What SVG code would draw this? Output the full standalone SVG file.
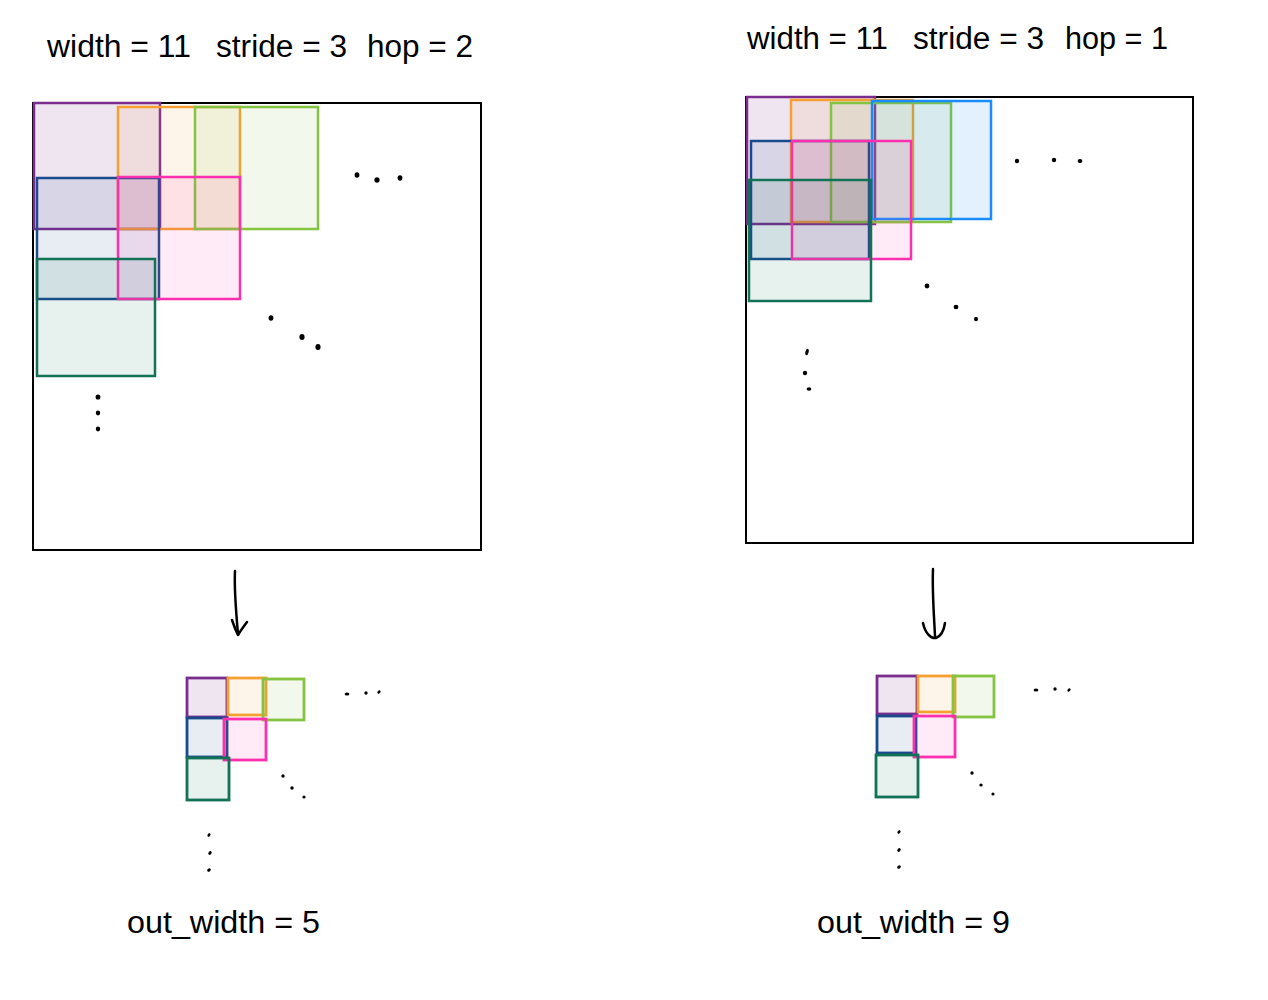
<svg xmlns="http://www.w3.org/2000/svg" width="1268" height="1000" viewBox="0 0 1268 1000">
<style>
  text { font-family: "Liberation Sans", Arial, sans-serif; font-size: 31px; fill: #000; }
  .frame { fill: none; stroke: #000; stroke-width: 2; }
  .w { stroke-width: 2.5; fill-opacity: 0.12; }
  .s { stroke-width: 2.8; }
  .pu { stroke: #7b2d8e; fill: #7b2d8e; }
  .or { stroke: #f5a030; fill: #f5a030; fill-opacity: 0.1; }
  .gr { stroke: #84c441; fill: #84c441; fill-opacity: 0.1; }
  .bl { stroke: #184a8c; fill: #184a8c; fill-opacity: 0.1; }
  .pk { stroke: #fc2fae; fill: #fc2fae; fill-opacity: 0.1; }
  .tl { stroke: #127256; fill: #127256; fill-opacity: 0.1; }
  .bb { stroke: #1a8cff; fill: #1a8cff; fill-opacity: 0.12; }
  .dot { fill: #000; }
  .arrow { fill: none; stroke: #000; stroke-width: 2.5; stroke-linecap: round; stroke-linejoin: round; }
</style>

<g id="left-title">
  <text x="47" y="57" textLength="144" lengthAdjust="spacingAndGlyphs">width = 11</text>
  <text x="216" y="57" textLength="131" lengthAdjust="spacingAndGlyphs">stride = 3</text>
  <text x="367" y="57" textLength="106" lengthAdjust="spacingAndGlyphs">hop = 2</text>
</g>

<g id="right-title">
  <text x="747" y="49" textLength="141" lengthAdjust="spacingAndGlyphs">width = 11</text>
  <text x="913" y="49" textLength="131" lengthAdjust="spacingAndGlyphs">stride = 3</text>
  <text x="1065" y="49" textLength="103" lengthAdjust="spacingAndGlyphs">hop = 1</text>
</g>

<g id="left-input">
  <rect class="frame" x="33" y="103" width="448" height="447"/>
  <rect class="w pu" x="34" y="103" width="126" height="126"/>
  <rect class="w or" x="118" y="107" width="122" height="122"/>
  <rect class="w gr" x="195" y="107" width="123" height="122"/>
  <rect class="w bl" x="37" y="178" width="122" height="121"/>
  <rect class="w pk" x="118" y="177" width="122" height="122"/>
  <rect class="w tl" x="37" y="259" width="118" height="117"/>
  <g class="dot">
    <ellipse cx="357" cy="175" rx="2.4" ry="2.8"/>
    <ellipse cx="377" cy="180" rx="2.6" ry="2.8"/>
    <ellipse cx="400" cy="178" rx="2.4" ry="2.8"/>
    <ellipse cx="271" cy="318" rx="2.4" ry="2.8"/>
    <ellipse cx="302" cy="337" rx="2.6" ry="3"/>
    <ellipse cx="318" cy="347" rx="2.6" ry="3"/>
    <ellipse cx="98" cy="397" rx="2.4" ry="2.6"/>
    <ellipse cx="98" cy="413" rx="2.2" ry="2.4"/>
    <ellipse cx="98" cy="429" rx="2.2" ry="2.4"/>
  </g>
</g>

<g id="right-input">
  <rect class="frame" x="746" y="97" width="447" height="446"/>
  <rect class="w pu" x="747" y="97" width="128" height="127"/>
  <rect class="w or" x="791" y="100" width="122" height="122"/>
  <rect class="w gr" x="831" y="103" width="120" height="119"/>
  <rect class="w bb" x="872" y="101" width="119" height="118"/>
  <rect class="w bl" x="751" y="141" width="118" height="118"/>
  <rect class="w pk" x="792" y="141" width="119" height="118"/>
  <rect class="w tl" x="749" y="180" width="122" height="121"/>
  <g class="dot">
    <ellipse cx="1017" cy="161" rx="2.2" ry="2.2"/>
    <ellipse cx="1054" cy="160" rx="2.2" ry="2.2"/>
    <ellipse cx="1080" cy="161" rx="2.4" ry="2"/>
    <ellipse cx="927" cy="286" rx="2.4" ry="2.4"/>
    <ellipse cx="956" cy="307" rx="2.4" ry="2.2"/>
    <ellipse cx="976" cy="319" rx="2" ry="2.2"/>
    <ellipse cx="807" cy="352" rx="1.6" ry="3.2" transform="rotate(15 807 352)"/>
    <ellipse cx="805" cy="373" rx="2.2" ry="2.2"/>
    <ellipse cx="809" cy="389" rx="2.4" ry="1.7"/>
  </g>
</g>

<g id="connectors">
  <path class="arrow" d="M235 571 C234 590 236 612 238 634"/>
  <path class="arrow" d="M232 620 C234 626 236 631 238 635 C241 630 244 626 247 622"/>
  <path class="arrow" d="M933 569 C932 590 934 615 935 636"/>
  <path class="arrow" d="M923 623 C925 633 931 639 936 638 C941 636 944 630 945 623"/>
</g>

<g id="left-output">
  <rect class="w s pu" x="187" y="678" width="40" height="39"/>
  <rect class="w s or" x="228" y="678" width="38" height="37"/>
  <rect class="w s gr" x="263" y="679" width="41" height="41"/>
  <rect class="w s bl" x="187" y="718" width="40" height="39"/>
  <rect class="w s pk" x="224" y="719" width="42" height="41"/>
  <rect class="w s tl" x="187" y="758" width="42" height="42"/>
  <g class="dot">
    <ellipse cx="347" cy="694" rx="2.4" ry="1.5"/>
    <ellipse cx="366" cy="693" rx="1.7" ry="1.7"/>
    <ellipse cx="379" cy="692" rx="1.8" ry="1.4" transform="rotate(-40 379 692)"/>
    <ellipse cx="283" cy="776" rx="1.7" ry="1.7"/>
    <ellipse cx="292" cy="788" rx="1.7" ry="1.7"/>
    <ellipse cx="304" cy="797" rx="1.6" ry="1.6"/>
    <ellipse cx="209" cy="835" rx="1.4" ry="1.9" transform="rotate(30 209 835)"/>
    <ellipse cx="210" cy="853" rx="1.5" ry="2" transform="rotate(40 210 853)"/>
    <ellipse cx="209" cy="870" rx="1.5" ry="2" transform="rotate(50 209 870)"/>
  </g>
  <text x="127" y="933" textLength="193" lengthAdjust="spacingAndGlyphs">out_width = 5</text>
</g>

<g id="right-output">
  <rect class="w s pu" x="877" y="676" width="40" height="38"/>
  <rect class="w s or" x="918" y="676" width="37" height="36"/>
  <rect class="w s gr" x="953" y="676" width="41" height="41"/>
  <rect class="w s bl" x="877" y="716" width="39" height="37"/>
  <rect class="w s pk" x="914" y="716" width="41" height="41"/>
  <rect class="w s tl" x="876" y="755" width="42" height="42"/>
  <g class="dot">
    <ellipse cx="1036" cy="690" rx="2.4" ry="1.5"/>
    <ellipse cx="1055" cy="689" rx="1.7" ry="1.7"/>
    <ellipse cx="1069" cy="690" rx="1.8" ry="1.4" transform="rotate(-40 1069 690)"/>
    <ellipse cx="972" cy="773" rx="1.7" ry="1.7"/>
    <ellipse cx="981" cy="785" rx="1.7" ry="1.6"/>
    <ellipse cx="993" cy="794" rx="1.6" ry="1.6"/>
    <ellipse cx="899" cy="832" rx="1.4" ry="1.9" transform="rotate(30 899 832)"/>
    <ellipse cx="899" cy="850" rx="1.5" ry="2" transform="rotate(40 899 850)"/>
    <ellipse cx="899" cy="867" rx="1.5" ry="2" transform="rotate(50 899 867)"/>
  </g>
  <text x="817" y="933" textLength="193" lengthAdjust="spacingAndGlyphs">out_width = 9</text>
</g>
</svg>
